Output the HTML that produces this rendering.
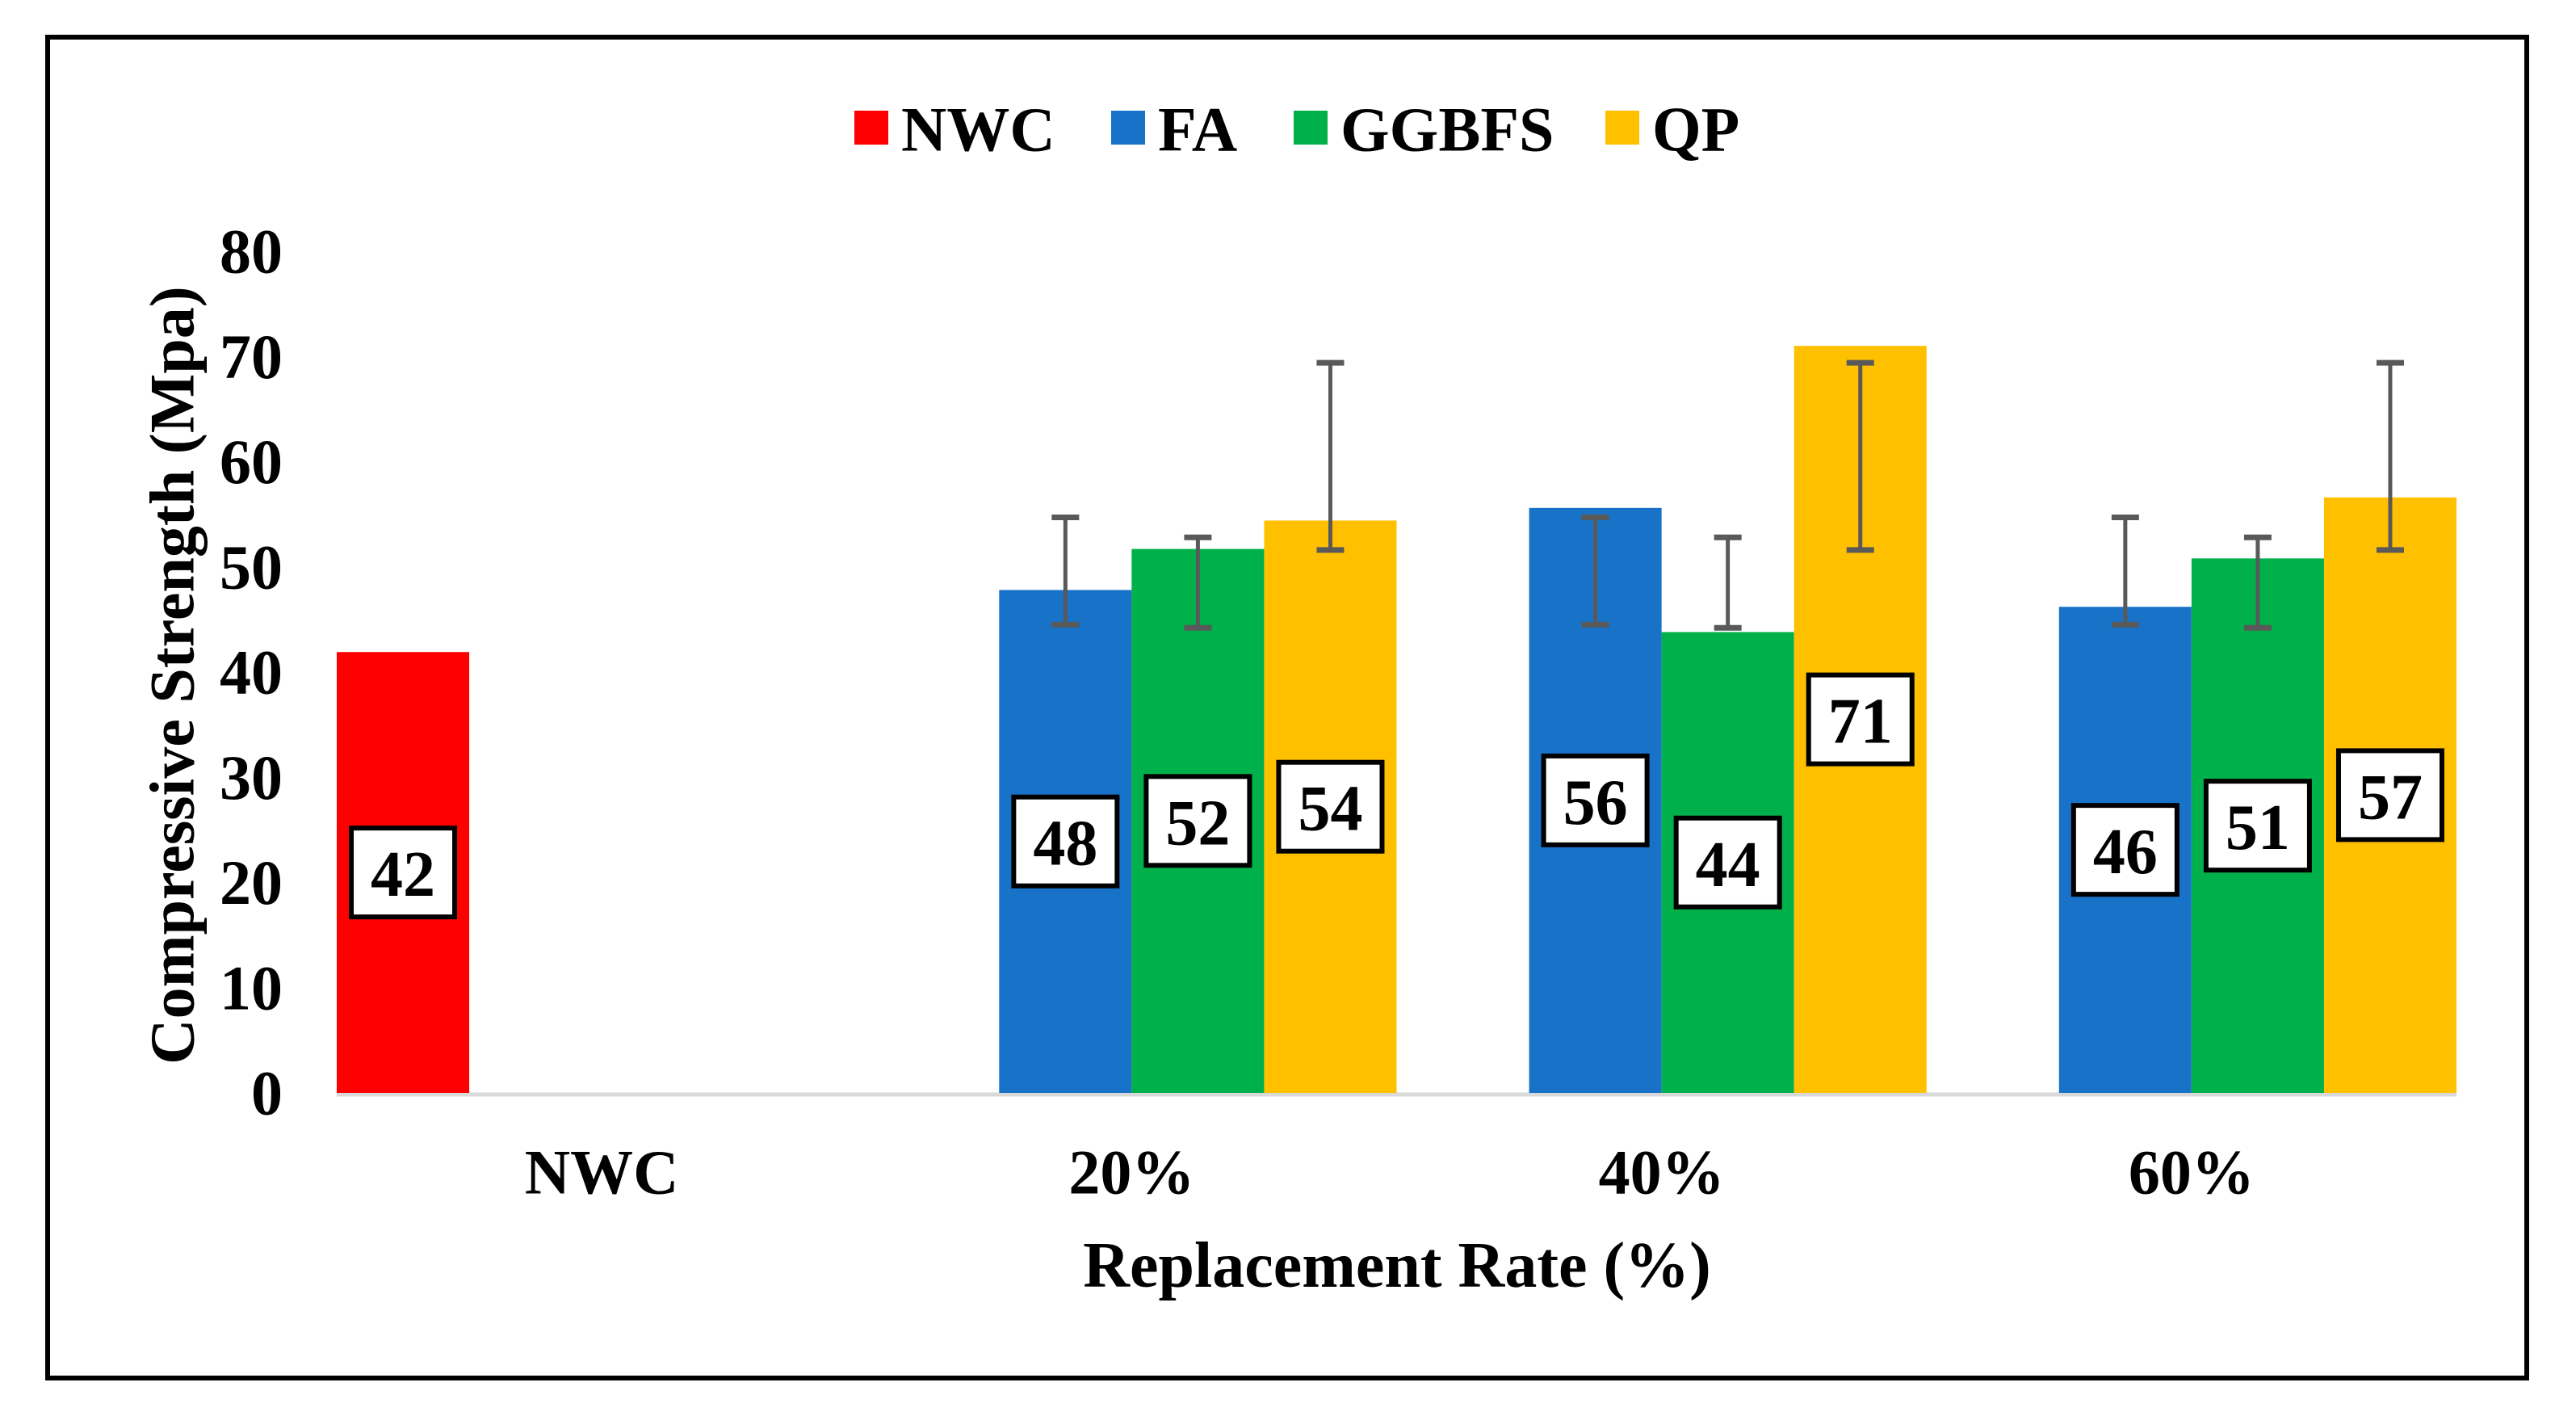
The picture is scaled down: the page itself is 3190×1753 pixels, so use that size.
<!DOCTYPE html>
<html><head><meta charset="utf-8">
<style>
html,body{margin:0;padding:0;background:#fff;}
svg{display:block;font-family:"Liberation Serif",serif;font-weight:bold;}
</style></head>
<body>
<svg id="chart" width="3190" height="1753" viewBox="0 0 3190 1753" xmlns="http://www.w3.org/2000/svg">
<rect x="59" y="46" width="3070" height="1660" fill="#fff" stroke="#000" stroke-width="6"/>
<g id="legend"></g>
<g id="plot"></g>
<text x="0" y="0" transform="translate(213,836) rotate(-90)" text-anchor="middle" dominant-baseline="central" font-size="78">Compressive Strength (Mpa)</text>
<text x="1730" y="1567" text-anchor="middle" dominant-baseline="central" font-size="80">Replacement Rate (%)</text>
</svg>
<script>
const categories = ["NWC", "20%", "40%", "60%"];
const seriesNames = ["NWC", "FA", "GGBFS", "QP"];
const seriesColors = ["#ff0000", "#1872c8", "#00b04a", "#ffc000"];
const nwcValues = [41.9, null, null, null];
const faValues = [null, 47.8, 55.6, 46.2];
const ggbfsValues = [null, 51.7, 43.8, 50.8];
const qpValues = [null, 54.4, 71.0, 56.6];
const faErrLow = [null, 44.5, 44.5, 44.5];
const faErrHigh = [null, 54.7, 54.7, 54.7];
const ggbfsErrLow = [null, 44.2, 44.2, 44.2];
const ggbfsErrHigh = [null, 52.8, 52.8, 52.8];
const qpErrLow = [null, 51.6, 51.6, 51.6];
const qpErrHigh = [null, 69.4, 69.4, 69.4];
const yTicks = [0, 10, 20, 30, 40, 50, 60, 70, 80];

const NS = "http://www.w3.org/2000/svg";
const X0 = 417, X1 = 3042, Y0 = 1353, Y80 = 311;
const band = (X1 - X0) / categories.length;
const slot = band / seriesNames.length;
function yScale(v) { return Y0 - (v / 80) * (Y0 - Y80); }
function xSlot(ci, si) { return X0 + ci * band + si * slot; }
function mk(tag, attrs, parent) {
  const e = document.createElementNS(NS, tag);
  for (const k in attrs) e.setAttribute(k, attrs[k]);
  parent.appendChild(e);
  return e;
}
const plot = document.getElementById("plot");
const legend = document.getElementById("legend");

yTicks.forEach(t => {
  const el = mk("text", {x: 350, y: yScale(t), "text-anchor": "end", "dominant-baseline": "central", "font-size": 78}, plot);
  
  
  el.textContent = t;
});

const axis = mk("line", {x1: X0, x2: X1, y1: Y0 + 2, y2: Y0 + 2, stroke: "#d9d9d9", "stroke-width": 5}, plot);



categories.forEach((c, i) => {
  const el = mk("text", {x: X0 + (i + 0.5) * band, y: 1451, "text-anchor": "middle", "dominant-baseline": "central", "font-size": 78}, plot);
  
  
  el.textContent = c;
});

const allValues = [nwcValues, faValues, ggbfsValues, qpValues];
const allLow = [[null,null,null,null], faErrLow, ggbfsErrLow, qpErrLow];
const allHigh = [[null,null,null,null], faErrHigh, ggbfsErrHigh, qpErrHigh];

allValues.forEach((vals, si) => {
  vals.forEach((v, ci) => {
    if (v == null) return;
    const x = xSlot(ci, si);
    const b = mk("rect", {x: x, y: yScale(v), width: slot, height: Y0 - yScale(v), fill: seriesColors[si]}, plot);
    
    
  });
});
allValues.forEach((vals, si) => {
  vals.forEach((v, ci) => {
    const lo = allLow[si][ci], hi = allHigh[si][ci];
    if (v == null || lo == null) return;
    const cx = xSlot(ci, si) + slot / 2;
    const g = mk("g", {stroke: "#595959", "stroke-width": 5}, plot);
    
    
    mk("line", {x1: cx, x2: cx, y1: yScale(lo), y2: yScale(hi)}, g);
    mk("line", {x1: cx - 17, x2: cx + 17, y1: yScale(lo), y2: yScale(lo), "stroke-width": 7}, g);
    mk("line", {x1: cx - 17, x2: cx + 17, y1: yScale(hi), y2: yScale(hi), "stroke-width": 7}, g);
  });
});
allValues.forEach((vals, si) => {
  vals.forEach((v, ci) => {
    if (v == null) return;
    const cx = xSlot(ci, si) + slot / 2, cy = yScale(v / 2);
    const g = mk("g", {}, plot);
    
    
    mk("rect", {x: cx - 64, y: cy - 55, width: 128, height: 110, fill: "#fff", stroke: "#000", "stroke-width": 6}, g);
    const t = mk("text", {x: cx, y: cy + 3, "text-anchor": "middle", "dominant-baseline": "central", "font-size": 80}, g);
    t.textContent = Math.round(v);
  });
});

const legX = [1058, 1376, 1602, 1988];
seriesNames.forEach((n, i) => {
  const g = mk("g", {}, legend);
  
  
  mk("rect", {x: legX[i], y: 137, width: 42, height: 42, fill: seriesColors[i]}, g);
  const t = mk("text", {x: legX[i] + 58, y: 160, "dominant-baseline": "central", "font-size": 78}, g);
  t.textContent = n;
});
</script>
</body></html>
